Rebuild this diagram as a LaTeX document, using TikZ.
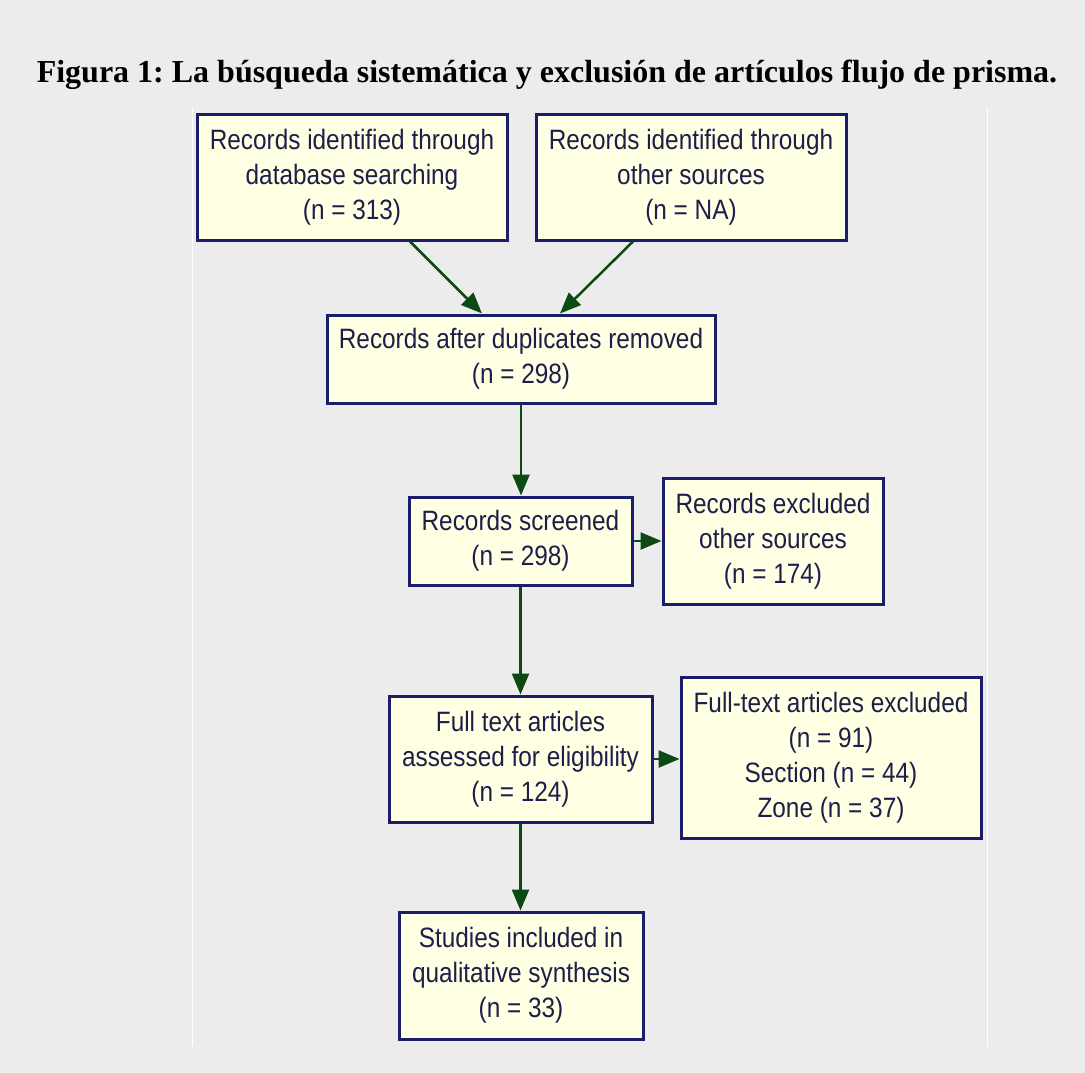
\documentclass[tikz,border=0pt]{standalone}
\usepackage{fontspec}
\setmainfont{Liberation Serif}
\newfontfamily\boxfont[FakeStretch=0.87]{Liberation Sans}
\usetikzlibrary{arrows.meta,calc}
\definecolor{bgc}{HTML}{ECECEC}
\definecolor{boxfill}{HTML}{FFFFE4}
\definecolor{boxline}{HTML}{1A1D6A}
\definecolor{boxtext}{HTML}{1E1E4A}
\definecolor{arrc}{HTML}{0B4A12}
\tikzset{
  flowbox/.style={draw=boxline, line width=3pt, fill=boxfill, text=boxtext,
    align=center, inner sep=0pt, font=\boxfont\fontsize{28}{35}\selectfont},
  flowarrow/.style={draw=arrc, line width=2.5pt, -{Triangle[length=21pt,width=17pt]}}
}
\frenchspacing
\begin{document}
\begin{tikzpicture}[x=1pt,y=-1pt]
\fill[bgc] (0,0) rectangle (1085,1073);
\useasboundingbox (0,0) rectangle (1085,1073);
\draw[white, line width=1pt] (192.5,107) coordinate (wl1) -- (192.5,1046) coordinate (wl2);
\draw[white, line width=1pt] (987,107) coordinate (wr1) -- (987,1046) coordinate (wr2);
\node[anchor=base, font=\bfseries\fontsize{32}{36}\selectfont] (title) at (547,83)
  {Figura 1: La búsqueda sistemática y exclusión de artículos flujo de prisma.};
\node[flowbox, minimum width=310pt, minimum height=126pt] (b1) at (352,177)
  {Records identified through\\database searching\\(n = 313)};
\node[flowbox, minimum width=310pt, minimum height=126pt] (b2) at (691,177)
  {Records identified through\\other sources\\(n = NA)};
\node[flowbox, minimum width=388pt, minimum height=88pt] (b3) at (521,359)
  {Records after duplicates removed\\(n = 298)};
\node[flowbox, minimum width=223pt, minimum height=88pt] (b4) at (520.5,541)
  {Records screened\\(n = 298)};
\node[flowbox, minimum width=220pt, minimum height=126pt] (b5) at (773,541)
  {Records excluded\\other sources\\(n = 174)};
\node[flowbox, minimum width=263pt, minimum height=126pt] (b6) at (520.5,759)
  {Full text articles\\assessed for eligibility\\(n = 124)};
\node[flowbox, minimum width=300pt, minimum height=161pt] (b7) at (831,757.5)
  {Full-text articles excluded\\(n = 91)\\Section (n = 44)\\Zone (n = 37)};
\node[flowbox, minimum width=244pt, minimum height=127pt] (b8) at (521,975.5)
  {Studies included in\\qualitative synthesis\\(n = 33)};
\draw[flowarrow] ([xshift=58pt]b1.south) -- ([xshift=-39pt]b3.north);
\draw[flowarrow] ([xshift=-58pt]b2.south) -- ([xshift=39pt]b3.north);
\draw[flowarrow] (b3.south) -- (b3.south |- b4.north);
\draw[flowarrow] (b4.east) -- (b4.east -| b5.west);
\draw[flowarrow] (b4.south) -- (b4.south |- b6.north);
\draw[flowarrow] (b6.east) -- (b6.east -| b7.west);
\draw[flowarrow] (b6.south) -- (b6.south |- b8.north);
\end{tikzpicture}
\end{document}
